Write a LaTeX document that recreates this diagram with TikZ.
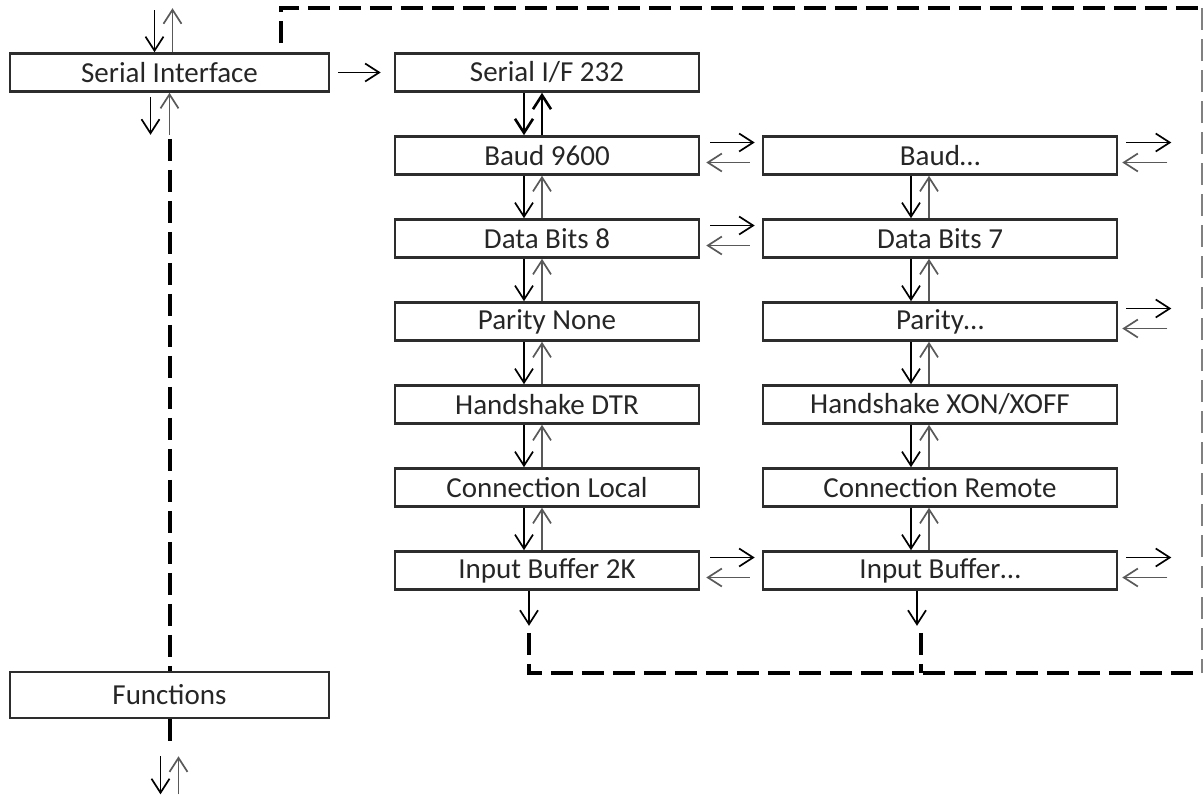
\documentclass[tikz,border=0pt]{standalone}
\usepackage{fontspec}
\setmainfont{Carlito}
\usetikzlibrary{arrows.meta,calc,positioning}
\definecolor{BoxGray}{RGB}{45,45,45}

\begin{document}
\begin{tikzpicture}[x=1pt, y=-1pt,
    box/.style={draw=BoxGray, line width=2.6pt, minimum height=38pt, inner sep=0pt,
      text=black!85, font=\fontsize{29}{32}\selectfont},
    dn/.style={-{Straight Barb[length=14pt,width=18pt]}, line width=1.7pt},
    up/.style={-{Straight Barb[length=14pt,width=18pt]}, line width=1.7pt, black!65},
    dashline/.style={line width=4pt, dash pattern=on 22pt off 9pt}]
    \useasboundingbox (0,0) rectangle (1203,796);

    % Left side boxes
    \node[box, minimum width=319pt] (si) at (169.5,72.5) {Serial Interface};
    \node[box, minimum width=319pt, minimum height=46pt] (fun) at (169.5,695) {Functions};
    \node[box, minimum width=304pt] (sif) at (547,72.5) {Serial I/F 232};

    % The two settings columns
    \foreach \name/\txt [count=\i] in {baudA/Baud 9600, bitsA/Data Bits 8, parA/Parity None,
        hsA/Handshake DTR, conA/Connection Local, bufA/Input Buffer 2K}
        \node[box, minimum width=304pt] (\name) at (547,72.5+83*\i) {\txt};
    \foreach \name/\txt [count=\i] in {baudB/Baud…, bitsB/Data Bits 7, parB/Parity…,
        hsB/{Handshake XON/XOFF}, conB/Connection Remote, bufB/Input Buffer…}
        \node[box, minimum width=354pt] (\name) at (940,72.5+83*\i) {\txt};

    % Up and down within the columns
    \draw[dn, line width=2.6pt] ([xshift=-23pt]sif.south) -- ([xshift=-23pt]baudA.north);
    \draw[up, line width=2.6pt, black] ([xshift=-5pt]baudA.north) -- ([xshift=-5pt]sif.south);
    \foreach \a/\b in {baudA/bitsA, bitsA/parA, parA/hsA, hsA/conA, conA/bufA} {
        \draw[dn] ([xshift=-23pt]\a.south) -- ([xshift=-23pt]\b.north);
        \draw[up] ([xshift=-5pt]\b.north) -- ([xshift=-5pt]\a.south);
    }
    \foreach \a/\b in {baudB/bitsB, bitsB/parB, parB/hsB, hsB/conB, conB/bufB} {
        \draw[dn] ([xshift=-29pt]\a.south) -- ([xshift=-29pt]\b.north);
        \draw[up] ([xshift=-11pt]\b.north) -- ([xshift=-11pt]\a.south);
    }

    % Across the columns
    \foreach \a/\b in {baudA/baudB, bitsA/bitsB, bufA/bufB} {
        \draw[dn, shorten <=10pt, shorten >=7pt] ([yshift=13pt]\a.east) -- ([yshift=13pt]\b.west);
        \draw[up, shorten <=12pt, shorten >=6pt] ([yshift=-7pt]\b.west) -- ([yshift=-7pt]\a.east);
    }
    \foreach \n in {baudB, parB, bufB} {
        \coordinate (\n-out) at ([xshift=53pt]\n.east);
        \draw[dn, shorten <=8pt] ([yshift=13pt]\n.east) -- ([yshift=13pt]\n-out);
        \draw[up, shorten <=4pt, shorten >=4pt] ([yshift=-7pt]\n-out) -- ([yshift=-7pt]\n.east);
    }
    \draw[dn, shorten <=8pt, shorten >=13pt] (si.east) -- (sif.west);

    % Serial Interface in and out
    \coordinate (si-in) at ([yshift=42pt]si.north);
    \coordinate (si-out) at ([yshift=-42pt]si.south);
    \draw[dn] ([xshift=-15pt]si-in) -- ([xshift=-15pt]si.north);
    \draw[up] ([xshift=3pt]si.north) -- ([xshift=3pt, yshift=2pt]si-in);
    \draw[dn, shorten <=4pt] ([xshift=-19pt]si.south) -- ([xshift=-19pt]si-out);
    \draw[up] (si-out) -- (si.south);
    \draw[dashline] ([yshift=-4pt]si-out) -- (fun.north);

    % Functions out
    \coordinate (fun-out) at ([yshift=-30pt]fun.south);
    \coordinate (fun-end) at ([yshift=-75pt]fun.south);
    \draw[dashline] (fun.south) -- (fun-out);
    \draw[dn] ([xshift=-9pt, yshift=-7pt]fun-out) -- ([xshift=-9pt]fun-end);
    \draw[up] ([xshift=9pt]fun-end) -- ([xshift=9pt, yshift=-7pt]fun-out);

    % Dashed loop back
    \coordinate (loop-tl) at (281,8);
    \coordinate (loop-tr) at (1201.5,8);
    \coordinate (loop-br) at (1201.5,673);
    \coordinate (fbA) at ([xshift=-18pt, yshift=-42pt]bufA.south);
    \coordinate (fbB) at ([xshift=-19pt, yshift=-42pt]bufB.south);
    \draw[dashline] ([yshift=9pt]loop-tl |- si.north) -- (loop-tl) -- (loop-tr);
    \draw[black!50, line width=2pt, dash pattern=on 22pt off 9pt] (loop-tr) -- (loop-br);
    \draw[dn] ([xshift=-18pt]bufA.south) -- ([yshift=7pt]fbA);
    \draw[dn] ([xshift=-23pt]bufB.south) -- ([xshift=-4pt, yshift=7pt]fbB);
    \draw[dashline] (fbA) |- (loop-br);
    \draw[dashline] (fbB) -- (fbB |- loop-br);
\end{tikzpicture}
\end{document}
